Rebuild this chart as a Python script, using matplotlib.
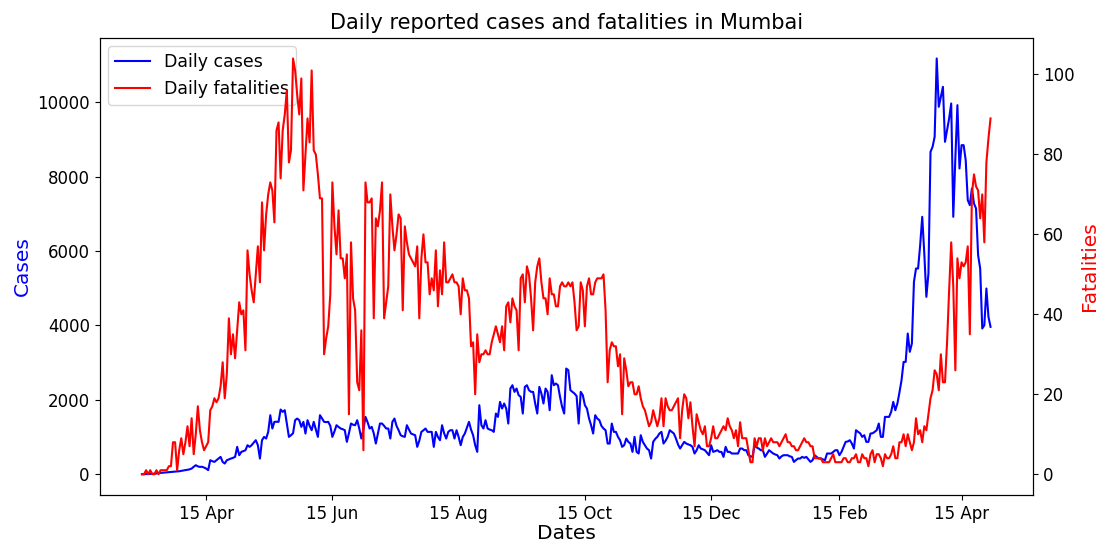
import matplotlib.pyplot as plt
import matplotlib.dates as mdates
import pandas as pd

start_date = "2020-03-15"

# daily reported cases
daily_cases = [
    0, 0, 5, 5, 10, 10, 15, 20, 30, 35,
    40, 45, 50, 55, 60, 65, 70, 75, 80, 90,
    100, 110, 120, 130, 152, 200, 242, 210, 197, 200,
    180, 152, 110, 376, 350, 331, 376, 420, 466, 330,
    287, 376, 400, 421, 440, 466, 735, 511, 600, 620,
    645, 780, 735, 780, 850, 914, 780, 421, 914, 1003,
    959, 1138, 1586, 1228, 1407, 1410, 1407, 1738, 1676, 1720,
    1362, 1003, 1048, 1100, 1452, 1496, 1452, 1272, 1407, 1093,
    1452, 1300, 1183, 1407, 1200, 1003, 1586, 1500, 1407, 1400,
    1407, 1300, 1003, 1150, 1317, 1270, 1228, 1210, 1183, 869,
    1100, 1362, 1330, 1317, 1452, 1228, 959, 1200, 1541, 1400,
    1228, 1272, 1100, 824, 1100, 1362, 1362, 1300, 1228, 1228,
    959, 1407, 1496, 1300, 1183, 1048, 1020, 1003, 1317, 1200,
    1093, 1070, 1048, 735, 900, 1138, 1180, 1228, 1138, 1138,
    1138, 735, 1138, 1000, 914, 1317, 1100, 959, 1138, 1183,
    1183, 959, 1183, 1003, 780, 1000, 1093, 1250, 1407, 1200,
    1048, 780, 600, 1855, 1317, 1228, 1452, 1228, 1200, 1183,
    1138, 1631, 1541, 1944, 1765, 1900, 1765, 1362, 2303, 2392,
    2213, 2303, 2124, 2079, 1631, 2348, 2392, 2258, 2213, 2213,
    1900, 1631, 2348, 2168, 1900, 2303, 2213, 1720, 2661, 2392,
    2437, 2392, 2079, 1810, 1631, 2840, 2796, 2258, 2213, 2168,
    2100, 1362, 2213, 2124, 1855, 1765, 1500, 1317, 1093, 1586,
    1496, 1452, 1300, 1228, 1183, 824, 824, 1362, 1138, 1138,
    1003, 914, 735, 780, 959, 869, 824, 600, 1003, 600,
    556, 1048, 869, 780, 690, 645, 421, 869, 950, 1003,
    1093, 1138, 824, 900, 1003, 1183, 1138, 1093, 959, 800,
    690, 780, 869, 824, 800, 780, 735, 556, 645, 780,
    690, 670, 645, 580, 511, 780, 600, 620, 645, 600,
    600, 466, 735, 600, 600, 556, 556, 556, 556, 690,
    690, 645, 645, 511, 480, 466, 780, 720, 690, 645,
    645, 466, 550, 645, 600, 556, 530, 511, 421, 480,
    511, 511, 511, 480, 466, 331, 380, 421, 421, 466,
    440, 466, 400, 331, 376, 511, 466, 421, 421, 400,
    376, 556, 556, 556, 600, 645, 645, 511, 600, 735,
    869, 880, 914, 824, 690, 1183, 1138, 1100, 1003, 1048,
    869, 869, 1093, 1100, 1138, 1183, 1362, 1003, 1003, 1541,
    1541, 1541, 1676, 1944, 1720, 1900, 2200, 2527, 3018, 3018,
    3781, 3289, 3513, 5170, 5529, 5529, 6156, 6918, 5932, 4767,
    5394, 8665, 8800, 9068, 11174, 9875, 10143, 10412, 8934, 9247,
    9561, 9964, 6918, 8486, 9919, 8217, 8844, 8844, 8441, 7366,
    7231, 7679, 7276, 7142, 5887, 5529, 3916, 4005, 4991, 4229, 3961,
]

# daily reported fatalities
daily_fatalities = [
    0, 0, 1, 0, 1, 0, 0, 1, 0, 1,
    1, 1, 1, 2, 2, 8, 8, 1, 6, 9,
    5, 8, 12, 7, 14, 5, 10, 17, 11, 8,
    6, 7, 8, 16, 17, 19, 18, 19, 22, 28,
    19, 25, 39, 30, 35, 29, 36, 43, 40, 41,
    31, 56, 50, 46, 43, 50, 57, 48, 68, 56,
    65, 70, 73, 71, 63, 86, 88, 74, 86, 90,
    96, 78, 81, 104, 101, 95, 90, 99, 71, 80,
    89, 83, 101, 81, 80, 75, 69, 69, 30, 34,
    37, 45, 73, 62, 55, 66, 54, 54, 49, 55,
    15, 58, 44, 41, 23, 21, 36, 6, 73, 68,
    68, 69, 39, 64, 62, 66, 73, 39, 43, 47,
    70, 62, 56, 60, 65, 64, 41, 62, 58, 55,
    54, 53, 52, 57, 39, 54, 60, 53, 53, 45,
    49, 46, 56, 42, 51, 45, 58, 48, 48, 49,
    50, 48, 48, 47, 40, 49, 46, 46, 44, 32,
    33, 20, 35, 28, 30, 30, 31, 30, 30, 33,
    35, 37, 35, 33, 37, 31, 42, 43, 38, 44,
    42, 41, 31, 49, 50, 43, 52, 50, 44, 36,
    48, 52, 54, 48, 44, 44, 40, 49, 45, 45,
    42, 42, 47, 48, 47, 47, 48, 47, 48, 43,
    36, 37, 48, 46, 37, 47, 49, 45, 45, 48,
    49, 49, 49, 50, 41, 23, 31, 33, 32, 32,
    27, 30, 15, 29, 26, 22, 23, 23, 20, 20,
    22, 19, 17, 16, 14, 12, 13, 16, 14, 12,
    14, 19, 12, 19, 17, 16, 16, 17, 18, 19,
    9, 16, 20, 19, 14, 18, 12, 7, 15, 13,
    11, 10, 12, 7, 7, 9, 12, 9, 9, 10,
    11, 12, 11, 14, 12, 11, 9, 11, 7, 13,
    9, 9, 9, 6, 3, 3, 9, 7, 9, 9,
    6, 9, 7, 8, 9, 8, 8, 8, 7, 8,
    9, 10, 8, 8, 7, 7, 6, 6, 7, 8,
    9, 8, 8, 7, 7, 4, 4, 4, 4, 3,
    3, 3, 3, 4, 5, 3, 3, 3, 3, 4,
    4, 3, 3, 4, 4, 5, 3, 3, 5, 4,
    4, 2, 5, 6, 3, 5, 5, 4, 2, 5,
    4, 4, 5, 7, 4, 4, 8, 8, 10, 7,
    10, 8, 6, 8, 14, 10, 11, 8, 12, 11,
    15, 19, 21, 26, 25, 21, 30, 23, 23, 33,
    46, 58, 47, 26, 54, 49, 53, 52, 53, 57,
    35, 70, 75, 72, 71, 64, 70, 58, 78, 84, 89,
]

dates = pd.date_range(start_date, periods=len(daily_cases), freq="D")

fig, ax1 = plt.subplots(figsize=(11.01, 5.43), dpi=100)
fig.subplots_adjust(left=0.0904, right=0.9382, top=0.9306, bottom=0.0884)

ax1.plot(dates, daily_cases, color="blue", label="Daily cases")
ax1.set_xlabel("Dates", fontsize=14.5, labelpad=1)
ax1.set_ylabel("Cases", color="blue", fontsize=14.5)
ax1.tick_params(labelsize=12)

ax2 = ax1.twinx()
ax2.plot(dates, daily_fatalities, color="red", label="Daily fatalities")
ax2.set_ylabel("Fatalities", color="red", fontsize=14.5)
ax2.tick_params(labelsize=12)

ax1.xaxis.set_major_locator(mdates.MonthLocator(bymonth=(2, 4, 6, 8, 10, 12), bymonthday=15))
ax1.xaxis.set_major_formatter(mdates.DateFormatter("%d %b"))

# one legend for both axes
lines = ax1.get_lines() + ax2.get_lines()
ax1.legend(lines, [l.get_label() for l in lines], loc="upper left", fontsize=12.5)

ax1.set_title("Daily reported cases and fatalities in Mumbai", fontsize=15)

fig.savefig("out.png", dpi=100)
